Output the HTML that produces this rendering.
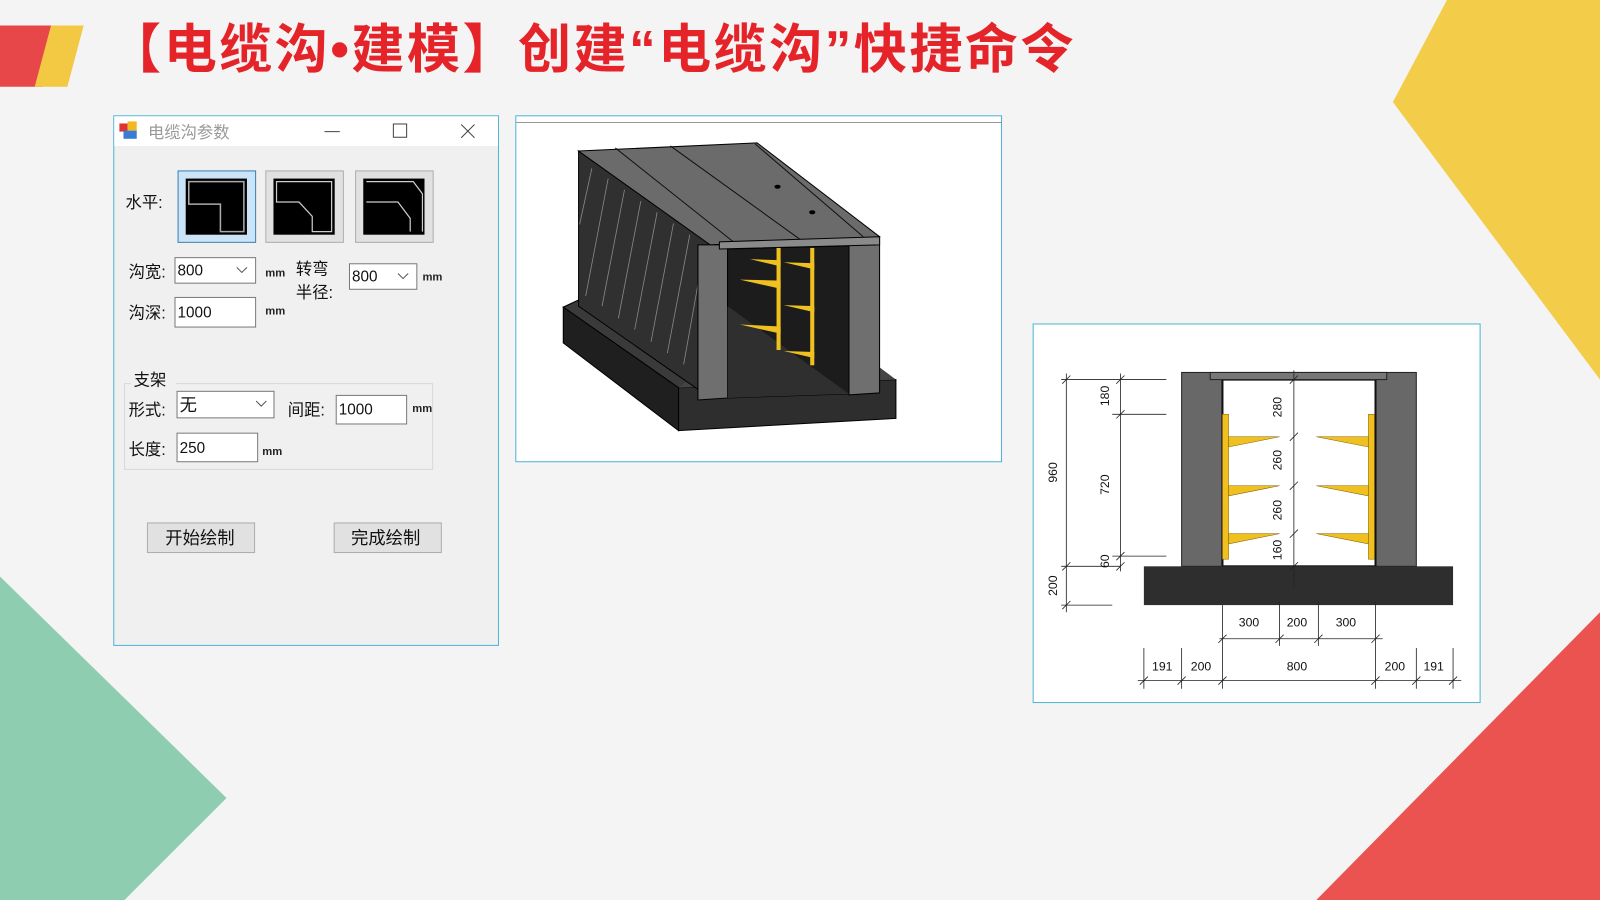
<!DOCTYPE html>
<html><head><meta charset="utf-8"><style>
html,body{margin:0;padding:0;background:#f4f4f4;}
svg{display:block;}
text{font-family:"Liberation Sans","Noto Sans CJK SC",sans-serif;}
</style></head><body>
<svg width="1600" height="900" viewBox="0 0 1568 882" preserveAspectRatio="none" xmlns="http://www.w3.org/2000/svg">
<rect width="1568" height="882" fill="#f4f4f4"/>
<!-- decorations -->
<polygon points="0,25 58,25 42,85 0,85" fill="#e8474a"/>
<polygon points="50,25 82,25 66,85 34,85" fill="#f3c843"/>
<polygon points="1418,0 1568,0 1568,372 1365,100" fill="#f3cd4a"/>
<polygon points="1568,600 1568,882 1290,882" fill="#ea5350"/>
<polygon points="0,565 222,782 122,882 0,882" fill="#8fcdb0"/>
<text x="106" y="66" font-size="52" font-weight="bold" fill="#e5242a" textLength="946" lengthAdjust="spacing">【电缆沟•建模】创建“电缆沟”快捷命令</text>

<!-- dialog -->
<rect x="111.5" y="113.5" width="377" height="519" fill="#f0f0f0" stroke="#4fb3d6"/>
<rect x="112" y="114" width="376" height="29" fill="#fff"/>
<rect x="117" y="121" width="8" height="8" fill="#d33"/><rect x="125" y="119" width="9" height="9" fill="#f2b821"/><rect x="121" y="128" width="13" height="8" fill="#3a7bd5"/>
<text x="145" y="135" font-size="16" fill="#999">电缆沟参数</text>
<line x1="318" y1="129" x2="333" y2="129" stroke="#444"/>
<rect x="385.5" y="121.5" width="13" height="13" fill="none" stroke="#444"/>
<path d="M452 122 L465 135 M465 122 L452 135" stroke="#444"/>
<g font-size="16" fill="#111">
<text x="123" y="204">水平:</text>
<text x="126" y="272">沟宽:</text>
<text x="126" y="312">沟深:</text>
<text x="290" y="269">转弯</text>
<text x="290" y="292">半径:</text>
<text x="131" y="378">支架</text>
<text x="126" y="407">形式:</text>
<text x="282" y="407">间距:</text>
<text x="126" y="446">长度:</text>
</g>
<rect x="174.5" y="167.5" width="76" height="70" fill="#cce4f7" stroke="#3c7fb1"/>
<rect x="260.5" y="167.5" width="76" height="70" fill="#e1e1e1" stroke="#adadad"/>
<rect x="348.5" y="167.5" width="76" height="70" fill="#e1e1e1" stroke="#adadad"/>
<rect x="182" y="175" width="60" height="55" fill="#000"/>
<rect x="268" y="175" width="60" height="55" fill="#000"/>
<rect x="356" y="175" width="60" height="55" fill="#000"/>
<path d="M185 178 H239 V227 H216 V200 H185 Z" fill="none" stroke="#aaa" stroke-width="1.5"/>
<path d="M271 178 H325 V227 H306 V212 L293 198 H271 Z" fill="none" stroke="#ccc" stroke-width="1.2"/>
<path d="M359 178 H405 L414 190 V227 M402 227 V214 L390 198 H359" fill="none" stroke="#ccc" stroke-width="1.2"/>
<g fill="#fff" stroke="#7a7a7a">
<rect x="171.5" y="252.5" width="79" height="25"/>
<rect x="171.5" y="291.5" width="79" height="29"/>
<rect x="342.5" y="258.5" width="66" height="25"/>
<rect x="173.5" y="383.5" width="95" height="26"/>
<rect x="329.5" y="387.5" width="69" height="28"/>
<rect x="173.5" y="424.5" width="79" height="28"/>
</g>
<path d="M232 262 l5 5 l5 -5 M390 268 l5 5 l5 -5 M251 393 l5 5 l5 -5" fill="none" stroke="#555"/>
<g font-size="15" fill="#111">
<text x="174" y="270">800</text><text x="174" y="311">1000</text><text x="345" y="276">800</text>
<text x="176" y="403" font-size="17">无</text><text x="332" y="406">1000</text><text x="176" y="444">250</text>
</g>
<g font-size="11" fill="#222" font-weight="bold">
<text x="260" y="271">mm</text><text x="260" y="308">mm</text><text x="414" y="275">mm</text><text x="404" y="404">mm</text><text x="257" y="446">mm</text>
</g>
<path d="M128 376 H122 V460 H424 V376 H172" fill="none" stroke="#d8d8d8"/>
<rect x="144.5" y="512.5" width="105" height="29" fill="#e1e1e1" stroke="#adadad"/>
<rect x="327.5" y="512.5" width="105" height="29" fill="#e1e1e1" stroke="#adadad"/>
<text x="162" y="533" font-size="17" fill="#111">开始绘制</text>
<text x="344" y="533" font-size="17" fill="#111">完成绘制</text>

<!-- 3D panel -->
<rect x="505.5" y="113.5" width="476" height="339" fill="#fff" stroke="#4fb3d6"/>
<line x1="506" y1="120" x2="981" y2="120" stroke="#999"/>
<polygon points="552,301 567,294 684,376 665,380" fill="#3a3a3a" stroke="#000"/>
<polygon points="552,301 665,380 665,422 552,336" fill="#1f1f1f" stroke="#000"/>
<polygon points="665,380 878,372 878,410 665,422" fill="#2e2e2e" stroke="#000"/>
<polygon points="665,380 878,372 862,360 680,368" fill="#444"/>
<polygon points="567,148 696,238 696,390 567,300" fill="#303030" stroke="#000"/>
<g stroke="#888" stroke-width="0.8">
<line x1="580" y1="165" x2="568" y2="220"/><line x1="596" y1="175" x2="574" y2="290"/><line x1="612" y1="186" x2="590" y2="300"/><line x1="628" y1="197" x2="606" y2="312"/><line x1="644" y1="208" x2="622" y2="323"/><line x1="660" y1="219" x2="638" y2="335"/><line x1="676" y1="230" x2="654" y2="346"/><line x1="690" y1="245" x2="670" y2="357"/>
</g>
<polygon points="567,148 742,140 862,232 696,240" fill="#6b6b6b" stroke="#000"/>
<path d="M603,145 L720,238 M657,143 L786,236 M740,141 L846,232" stroke="#111" fill="none"/>
<ellipse cx="762" cy="183" rx="3" ry="2" fill="#000"/><ellipse cx="796" cy="208" rx="3" ry="2" fill="#000"/>
<polygon points="684,240 713,240 713,390 684,392" fill="#6f6f6f" stroke="#000"/>
<polygon points="832,238 862,234 862,385 832,387" fill="#6f6f6f" stroke="#000"/>
<polygon points="713,244 832,241 832,386 713,390" fill="#1c1c1c" stroke="#000"/>
<polygon points="713,300 832,386 713,390" fill="#2f2f2f"/>
<polygon points="705,237 862,232 862,240 705,244" fill="#8a8a8a" stroke="#000"/>
<g fill="#f0c020">
<rect x="761" y="243" width="4" height="100"/><rect x="794" y="243" width="4" height="115"/>
<polygon points="765,255 735,254 765,261"/><polygon points="798,258 768,257 798,264"/>
<polygon points="765,275 725,274 765,283"/><polygon points="798,300 768,299 798,306"/>
<polygon points="765,320 725,318 765,327"/><polygon points="798,345 768,344 798,351"/>
</g>

<!-- section panel -->
<rect x="1012.5" y="317.5" width="438" height="371" fill="#fff" stroke="#4fb3d6"/>
<rect x="1158" y="365" width="230" height="190" fill="#686868" stroke="#222"/>
<rect x="1198" y="372" width="150" height="183" fill="#fff" stroke="#111" stroke-width="2"/>
<rect x="1186" y="365" width="173" height="7" fill="#777" stroke="#222"/>
<rect x="1121" y="555" width="303" height="38" fill="#2e2e2e"/>
<g fill="#f0c020" stroke="#806000" stroke-width="0.5">
<rect x="1198" y="406" width="6" height="142"/><rect x="1341" y="406" width="6" height="142"/>
<polygon points="1204,428 1254,428 1204,438"/><polygon points="1204,476 1254,476 1204,486"/><polygon points="1204,523 1254,523 1204,533"/>
<polygon points="1341,428 1290,428 1341,438"/><polygon points="1341,476 1290,476 1341,486"/><polygon points="1341,523 1290,523 1341,533"/>
</g>
<g stroke="#222" stroke-width="0.8" fill="none">
<line x1="1268" y1="363" x2="1268" y2="575"/>
<line x1="1045" y1="366" x2="1045" y2="600"/><line x1="1098" y1="366" x2="1098" y2="560"/>
<line x1="1040" y1="372" x2="1143" y2="372"/><line x1="1090" y1="406" x2="1143" y2="406"/>
<line x1="1090" y1="545" x2="1143" y2="545"/><line x1="1040" y1="555" x2="1098" y2="555"/>
<line x1="1040" y1="593" x2="1090" y2="593"/>
<line x1="1195" y1="626" x2="1355" y2="626"/><line x1="1115" y1="667" x2="1432" y2="667"/>
<line x1="1198" y1="593" x2="1198" y2="675"/><line x1="1254" y1="590" x2="1254" y2="633"/><line x1="1292" y1="590" x2="1292" y2="633"/><line x1="1348" y1="590" x2="1348" y2="675"/>
<line x1="1121" y1="635" x2="1121" y2="675"/><line x1="1158" y1="635" x2="1158" y2="675"/><line x1="1388" y1="635" x2="1388" y2="675"/><line x1="1424" y1="635" x2="1424" y2="675"/>
<path d="M1041,376 l8,-8 M1094,376 l8,-8 M1094,410 l8,-8 M1094,549 l8,-8 M1041,559 l8,-8 M1094,559 l8,-8 M1041,597 l8,-8 M1264,432 l8,-8 M1264,480 l8,-8 M1264,527 l8,-8 M1264,376 l8,-8 M1264,559 l8,-8"/>
<path d="M1194,630 l8,-8 M1250,630 l8,-8 M1288,630 l8,-8 M1344,630 l8,-8 M1117,671 l8,-8 M1154,671 l8,-8 M1194,671 l8,-8 M1344,671 l8,-8 M1384,671 l8,-8 M1420,671 l8,-8"/>
</g>
<g font-size="12" fill="#111" text-anchor="middle">
<text transform="translate(1087,388) rotate(-90)">180</text>
<text transform="translate(1087,475) rotate(-90)">720</text>
<text transform="translate(1087,550) rotate(-90)">60</text>
<text transform="translate(1036,463) rotate(-90)">960</text>
<text transform="translate(1036,574) rotate(-90)">200</text>
<text transform="translate(1256,399) rotate(-90)">280</text>
<text transform="translate(1256,451) rotate(-90)">260</text>
<text transform="translate(1256,500) rotate(-90)">260</text>
<text transform="translate(1256,539) rotate(-90)">160</text>
<text x="1224" y="614">300</text><text x="1271" y="614">200</text><text x="1319" y="614">300</text>
<text x="1139" y="657">191</text><text x="1177" y="657">200</text><text x="1271" y="657">800</text><text x="1367" y="657">200</text><text x="1405" y="657">191</text>
</g>
</svg>
</body></html>
